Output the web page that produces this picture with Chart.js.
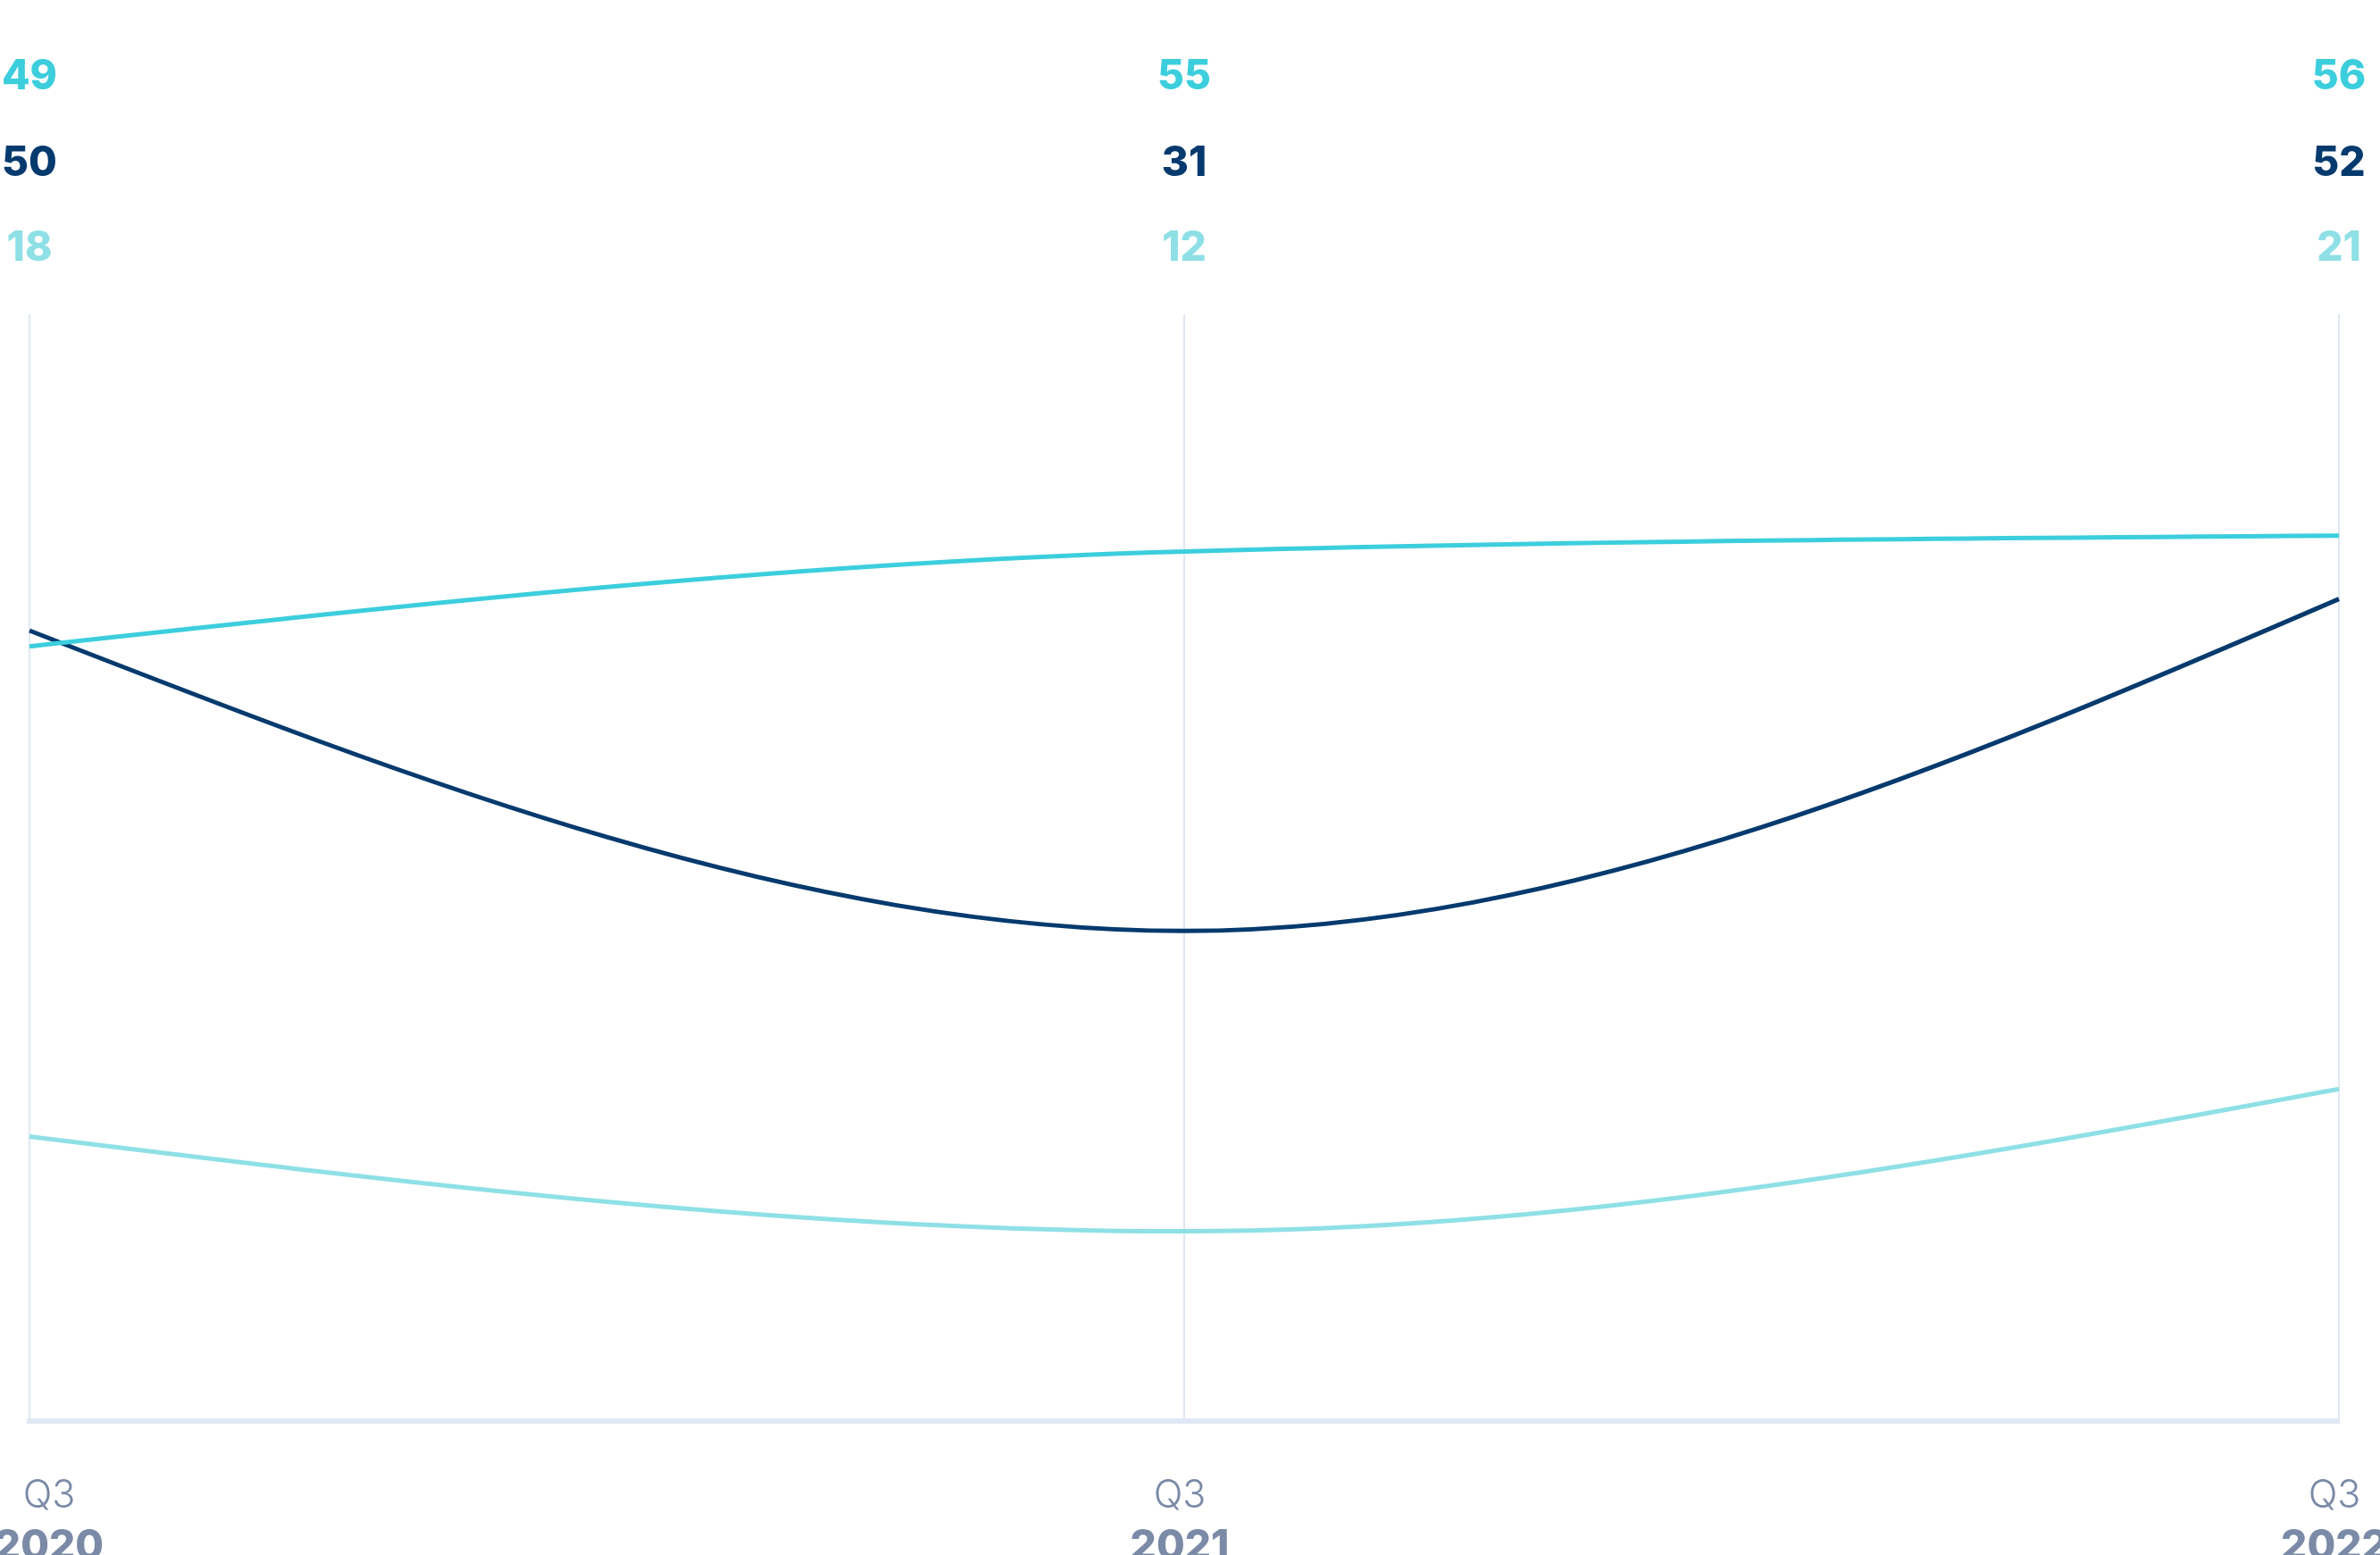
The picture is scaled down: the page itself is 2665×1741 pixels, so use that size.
<!DOCTYPE html>
<html>
<head>
<meta charset="utf-8">
<script src="https://cdn.jsdelivr.net/npm/chart.js@4/dist/chart.umd.min.js"></script>
<style>
  body { margin: 0; background: #fff; }
  canvas { display: block; }
</style>
</head>
<body>
<canvas id="chart" width="2665" height="1741"></canvas>
<script>
// data
const quarters = ['Q3', 'Q3', 'Q3'];
const years = ['2020', '2021', '2022'];
const seriesTop = [49, 55, 56];     // cyan
const seriesMid = [50, 31, 52];     // navy
const seriesLow = [18, 12, 21];     // light cyan
const yMin = 0;
const yMax = 70;

const cyan = '#3ccedd';
const navy = '#053a6e';
const light = '#8ee0e6';
const gridColor = '#dfe8f4';
const tickColor = '#7a8aa7';

// swap chart.js monotone slopes for d3-style monotoneX ones (steeper end tangents)
const monotoneX = {
  id: 'monotoneX',
  beforeDatasetDraw(chart, args) {
    const line = args.meta.dataset;
    const pts = args.meta.data;
    const n = pts.length;
    if (!line || n < 3) return;
    line.updateControlPoints(chart.chartArea, 'x');
    const m = [];
    for (let i = 1; i < n - 1; i++) {
      const h0 = pts[i].x - pts[i - 1].x, h1 = pts[i + 1].x - pts[i].x;
      const s0 = (pts[i].y - pts[i - 1].y) / h0, s1 = (pts[i + 1].y - pts[i].y) / h1;
      const p = (s0 * h1 + s1 * h0) / (h0 + h1);
      m[i] = (Math.sign(s0) + Math.sign(s1)) * Math.min(Math.abs(s0), Math.abs(s1), 0.5 * Math.abs(p)) || 0;
    }
    const sa = (pts[1].y - pts[0].y) / (pts[1].x - pts[0].x);
    const sb = (pts[n - 1].y - pts[n - 2].y) / (pts[n - 1].x - pts[n - 2].x);
    m[0] = (3 * sa - m[1]) / 2;
    m[n - 1] = (3 * sb - m[n - 2]) / 2;
    pts.forEach((pt, i) => {
      const hp = i > 0 ? (pt.x - pts[i - 1].x) / 3 : 0;
      const hn = i < n - 1 ? (pts[i + 1].x - pt.x) / 3 : 0;
      pt.cp1x = pt.x - hp;
      pt.cp1y = pt.y - m[i] * hp;
      pt.cp2x = pt.x + hn;
      pt.cp2y = pt.y + m[i] * hn;
    });
  }
};

// value labels above the chart + the two-line x labels
const labelsPlugin = {
  id: 'labelsPlugin',
  afterDraw(chart) {
    const ctx = chart.ctx;
    const xs = chart.scales.x;
    const rows = [100, 197, 292];
    ctx.save();
    ctx.textAlign = 'center';
    ctx.textBaseline = 'alphabetic';
    ctx.font = '800 46px Inter';
    chart.data.datasets.forEach((ds, d) => {
      ctx.fillStyle = ds.borderColor;
      ds.data.forEach((v, i) => {
        ctx.fillText(String(v), xs.getPixelForValue(i), rows[d]);
      });
    });

    ctx.fillStyle = tickColor;
    chart.data.labels.forEach((lbl, i) => {
      const x = Math.max(xs.getPixelForValue(i) - 5, 55);
      ctx.font = '300 43px Inter';
      ctx.fillText(lbl[0], x, 1688);
      ctx.font = '800 46px Inter';
      ctx.fillText(lbl[1], x, 1746);
    });
    ctx.restore();
  }
};

new Chart(document.getElementById('chart').getContext('2d'), {
  type: 'line',
  data: {
    labels: quarters.map((q, i) => [q, years[i]]),
    datasets: [
      { label: 'A', data: seriesTop, borderColor: cyan },
      { label: 'B', data: seriesMid, borderColor: navy },
      { label: 'C', data: seriesLow, borderColor: light }
    ]
  },
  options: {
    responsive: false,
    animation: false,
    layout: { padding: { left: 33, right: 46, top: 352, bottom: 150 } },
    elements: {
      line: { borderWidth: 5, cubicInterpolationMode: 'monotone', fill: false, capBezierPoints: false },
      point: { radius: 0 }
    },
    plugins: { legend: { display: false }, tooltip: { enabled: false } },
    scales: {
      x: {
        grid: { color: gridColor, lineWidth: 2, drawTicks: false },
        border: { color: gridColor, width: 6 },
        ticks: { display: false }
      },
      y: { display: false, min: yMin, max: yMax }
    }
  },
  plugins: [monotoneX, labelsPlugin]
});
</script>
</body>
</html>
